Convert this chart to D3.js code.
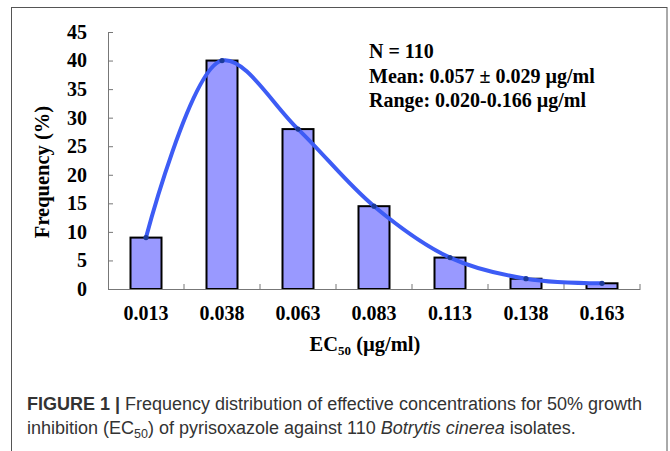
<!DOCTYPE html>
<html>
<head>
<meta charset="utf-8">
<script src="https://cdn.jsdelivr.net/npm/d3@7"></script>
<style>
  html, body { margin: 0; padding: 0; background: #fff; }
  svg { display: block; }
</style>
</head>
<body>
<svg id="chart" width="670" height="451"></svg>
<script>
const categories = ["0.013", "0.038", "0.063", "0.083", "0.113", "0.138", "0.163"];
const frequency = [9, 40, 28, 14.5, 5.5, 1.8, 1.0];
const yTicks = [0, 5, 10, 15, 20, 25, 30, 35, 40, 45];
const statsLines = ["N = 110", "Mean: 0.057 ± 0.029 µg/ml", "Range: 0.020-0.166 µg/ml"];

(function () {
const svg = d3.select("#chart");
const serif = "'Liberation Serif', 'Times New Roman', serif";
const sans = "'Liberation Sans', Arial, Helvetica, sans-serif";

// outer frame
svg.append("rect").attr("x", 11.5).attr("y", 7.5).attr("width", 655.5).attr("height", 460)
  .attr("fill", "none").attr("stroke", "#555").attr("stroke-width", 1);

const mLeft = 108, mRight = 640, mTop = 32, mBottom = 289;
const x = d3.scaleBand().domain(categories).range([mLeft, mRight]).paddingInner(0.59).paddingOuter(0.295);
const xc = d3.scalePoint().domain(categories).range([mLeft, mRight]).padding(0.5);
const y = d3.scaleLinear().domain([0, 45]).range([mBottom, mTop]);

// bars
svg.append("g").selectAll("rect").data(categories).join("rect")
  .attr("x", d => xc(d) - 15.5)
  .attr("width", 31)
  .attr("y", (d, i) => y(frequency[i]))
  .attr("height", (d, i) => mBottom - y(frequency[i]))
  .attr("fill", "#9999ff").attr("stroke", "#000").attr("stroke-width", 2);

// y axis
const yAxis = svg.append("g").attr("transform", `translate(${mLeft},0)`)
  .call(d3.axisLeft(y).tickValues(yTicks).tickSizeInner(-5).tickSizeOuter(0).tickPadding(21));
yAxis.select(".domain").attr("stroke", "#777");
yAxis.selectAll(".tick line").attr("stroke", "#777");
yAxis.selectAll("text").attr("font-family", serif).attr("font-weight", "bold").attr("font-size", 20).attr("fill", "#000");

// x axis
const xAxis = svg.append("g").attr("transform", `translate(0,${mBottom})`)
  .call(d3.axisBottom(x).tickSize(0).tickPadding(17));
xAxis.select(".domain").attr("stroke", "#777");
xAxis.selectAll("text").attr("font-family", serif).attr("font-weight", "bold").attr("font-size", 20).attr("fill", "#000");
const step = (mRight - mLeft) / categories.length;
svg.append("g").selectAll("line").data(d3.range(1, categories.length + 1)).join("line")
  .attr("x1", i => mLeft + i * step).attr("x2", i => mLeft + i * step)
  .attr("y1", mBottom).attr("y2", mBottom - 5)
  .attr("stroke", "#777").attr("stroke-width", 1);

// smooth curve
const pts = categories.map((c, i) => [xc(c), y(frequency[i])]);
svg.append("path").datum(pts)
  .attr("d", d3.line().curve(d3.curveCatmullRom.alpha(0.5)))
  .attr("fill", "none").attr("stroke", "#3d5cf5").attr("stroke-width", 4).attr("stroke-linecap", "round");
svg.append("g").selectAll("circle").data(pts).join("circle")
  .attr("cx", d => d[0]).attr("cy", d => d[1]).attr("r", 2.6).attr("fill", "#1d3b99");

// axis titles
svg.append("text").attr("transform", "translate(49,172) rotate(-90)")
  .attr("text-anchor", "middle").attr("font-family", serif).attr("font-weight", "bold").attr("font-size", 20.5)
  .text("Frequency (%)");
const xt = svg.append("text").attr("x", 365).attr("y", 351).attr("text-anchor", "middle")
  .attr("font-family", serif).attr("font-weight", "bold").attr("font-size", 20.5);
xt.append("tspan").text("EC");
xt.append("tspan").attr("font-size", 13).attr("dy", 4).text("50");
xt.append("tspan").attr("dy", -4).text(" (µg/ml)");

// stats annotation
svg.append("g").selectAll("text").data(statsLines).join("text")
  .attr("x", 369).attr("y", (d, i) => 58 + i * 24.5)
  .attr("font-family", serif).attr("font-weight", "bold").attr("font-size", 20).attr("fill", "#000")
  .text(d => d);

// caption
const cap1 = svg.append("text").attr("x", 27).attr("y", 410).attr("font-family", sans).attr("font-size", 18).attr("fill", "#333");
cap1.append("tspan").attr("font-weight", "bold").text("FIGURE 1 | ");
cap1.append("tspan").text("Frequency distribution of effective concentrations for 50% growth");
const cap2 = svg.append("text").attr("x", 27).attr("y", 434).attr("font-family", sans).attr("font-size", 18).attr("fill", "#333");
cap2.append("tspan").text("inhibition (EC");
cap2.append("tspan").attr("font-size", 12.5).attr("dy", 4).text("50");
cap2.append("tspan").attr("dy", -4).text(") of pyrisoxazole against 110 ");
cap2.append("tspan").attr("font-style", "italic").text("Botrytis cinerea");
cap2.append("tspan").text(" isolates.");
})();
</script>
</body>
</html>
